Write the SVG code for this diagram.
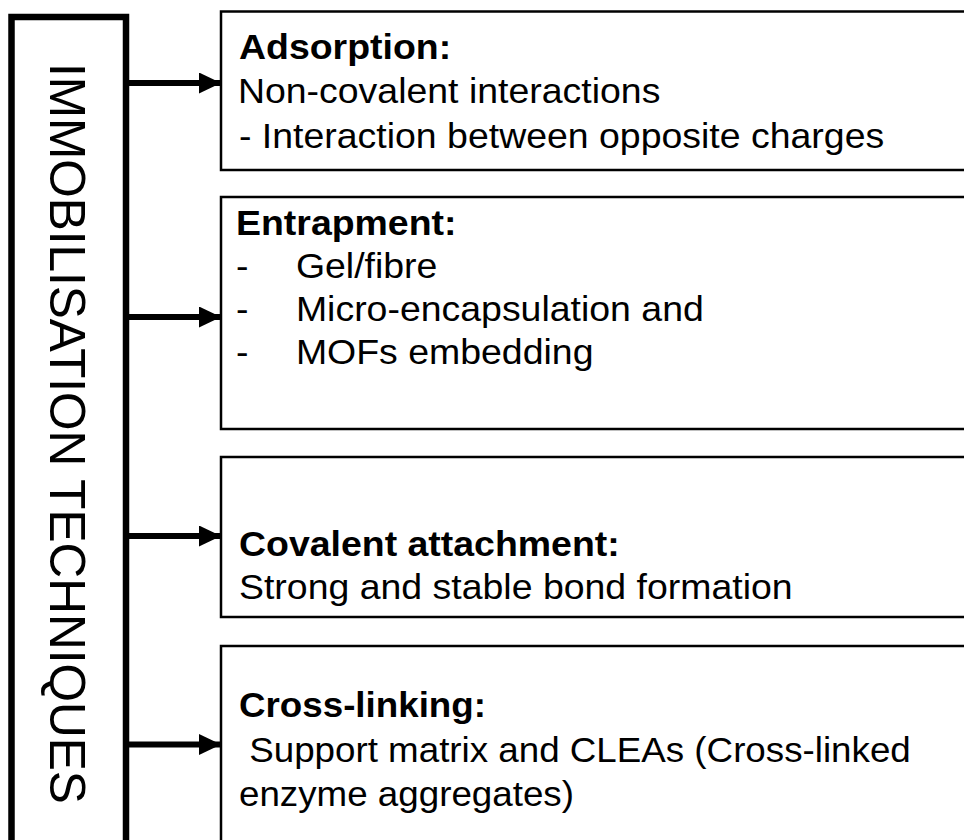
<svg xmlns="http://www.w3.org/2000/svg" width="964" height="840" viewBox="0 0 964 840">
  <defs>
    <marker id="arrow" viewBox="0 0 22 21" refX="22" refY="10.5" markerWidth="22" markerHeight="21" markerUnits="userSpaceOnUse" orient="auto">
      <path d="M0,0 L22,10.5 L0,21 Z" fill="#000"/>
    </marker>
    <style>
      .box { fill: #fff; stroke: #000; stroke-width: 2.5; }
      .main { fill: #fff; stroke: #000; stroke-width: 6.5; }
      .t { font-family: "Liberation Sans", Arial, sans-serif; font-size: 35px; fill: #000; }
      .b { font-weight: bold; }
      .v { font-family: "Liberation Sans", Arial, sans-serif; font-size: 49.5px; fill: #000; }
      .conn { stroke: #000; stroke-width: 6; fill: none; }
    </style>
  </defs>
  <rect x="0" y="0" width="964" height="840" fill="#fff"/>

  <g id="node-main">
    <rect class="main" x="11.5" y="17" width="114.5" height="900"/>
    <text class="v" transform="translate(50,63) rotate(90)">IMMOBILISATION TECHNIQUES</text>
  </g>

  <g id="node-adsorption">
    <rect class="box" x="221" y="11.5" width="800" height="158.5"/>
    <g transform="translate(239 0) scale(1.07 1)">
      <text class="t b" x="0" y="59">Adsorption:</text>
      <text class="t" x="-1" y="103">Non-covalent interactions</text>
      <text class="t" x="0" y="148">- Interaction between opposite charges</text>
    </g>
  </g>

  <g id="node-entrapment">
    <rect class="box" x="221" y="197" width="800" height="232"/>
    <g transform="translate(236 0) scale(1.07 1)">
      <text class="t b" x="0" y="235">Entrapment:</text>
      <text class="t" x="0" y="278">-</text>
      <text class="t" x="56" y="278">Gel/fibre</text>
      <text class="t" x="0" y="321">-</text>
      <text class="t" x="56" y="321">Micro-encapsulation and</text>
      <text class="t" x="0" y="364">-</text>
      <text class="t" x="56" y="364">MOFs embedding</text>
    </g>
  </g>

  <g id="node-covalent">
    <rect class="box" x="221" y="457" width="800" height="160"/>
    <g transform="translate(239 0) scale(1.07 1)">
      <text class="t b" x="0" y="556">Covalent attachment:</text>
      <text class="t" x="0" y="599">Strong and stable bond formation</text>
    </g>
  </g>

  <g id="node-crosslinking">
    <rect class="box" x="221" y="646" width="800" height="300"/>
    <g transform="translate(239 0) scale(1.05 1)">
      <text class="t b" x="0" y="717">Cross-linking:</text>
      <text class="t" x="0" y="762" xml:space="preserve"> Support matrix and CLEAs (Cross-linked</text>
      <text class="t" x="0" y="806">enzyme aggregates)</text>
    </g>
  </g>

  <g id="connectors">
    <line class="conn" x1="129" y1="83" x2="221" y2="83" marker-end="url(#arrow)"/>
    <line class="conn" x1="129" y1="317" x2="221" y2="317" marker-end="url(#arrow)"/>
    <line class="conn" x1="129" y1="536" x2="221" y2="536" marker-end="url(#arrow)"/>
    <line class="conn" x1="129" y1="744.5" x2="221" y2="744.5" marker-end="url(#arrow)"/>
  </g>
</svg>
